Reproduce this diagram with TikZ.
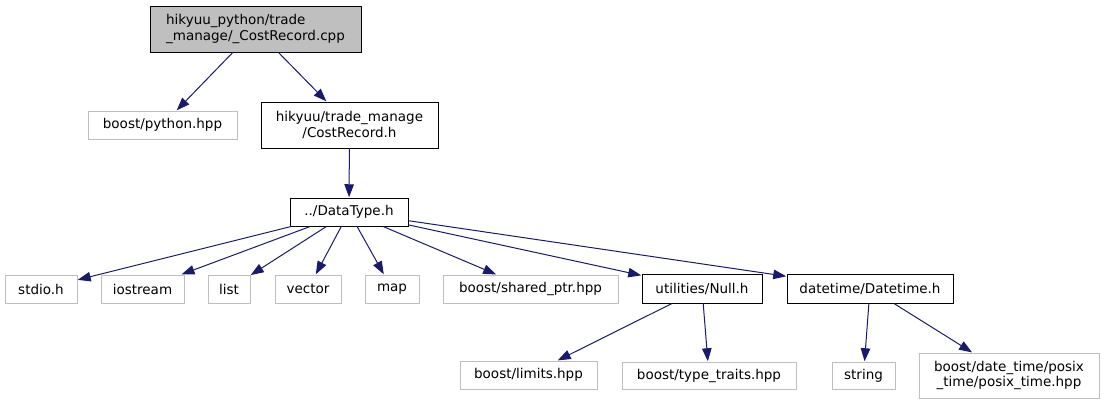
\documentclass[tikz,border=0pt]{standalone}
\usepackage{fontspec}
\setmainfont{DejaVu Sans}
\usetikzlibrary{arrows.meta}
\definecolor{edgeblue}{HTML}{191970}
\definecolor{boxgray}{HTML}{BFBFBF}
\tikzset{
  base/.style={rectangle, inner sep=0pt, font=\fontsize{13.5}{15.5}\selectfont, line width=0.9pt, text=black},
  sysbox/.style={base, draw=boxgray},
  projbox/.style={base, draw=black},
  rootbox/.style={base, draw=black, fill=boxgray, align=left},
  edge/.style={draw=edgeblue, line width=1pt, -{Triangle[length=13pt,width=9.5pt]}, shorten >=0.3pt}
}
\newcommand{\bx}[7]{% style, name, x1, x2, y1, y2, text
  \node[#1, minimum width={#4-#3}, minimum height={#6-#5}] (#2) at ({(#3+#4)/2},{(#5+#6)/2}) {#7};}
\begin{document}
\begin{tikzpicture}[x=1pt,y=-1pt]
\useasboundingbox (0,0) rectangle (1104,405);
\bx{rootbox}{root}{150}{361}{6}{52}{hikyuu\_python/trade\\\_manage/\_CostRecord.cpp}
\bx{sysbox}{python}{88}{237}{111}{139}{boost/python.hpp}
\bx{projbox,align=center}{cost}{261}{438}{102}{148}{hikyuu/trade\_manage\\/CostRecord.h}
\bx{projbox}{dt}{290}{408}{198}{226}{../DataType.h}
\bx{sysbox}{stdio}{5}{77}{275}{303}{stdio.h}
\bx{sysbox}{iostream}{101}{184}{275}{303}{iostream}
\bx{sysbox}{list}{208}{250}{275}{303}{list}
\bx{sysbox}{vector}{275}{341}{275}{303}{vector}
\bx{sysbox}{map}{365}{419}{275}{303}{map}
\bx{sysbox}{shared}{443}{618}{275}{303}{boost/shared\_ptr.hpp}
\bx{projbox}{null}{642}{762}{274}{303}{utilities/Null.h}
\bx{projbox}{datetime}{787}{953}{274}{303}{datetime/Datetime.h}
\bx{sysbox}{limits}{460}{597}{361}{389}{boost/limits.hpp}
\bx{sysbox}{traits}{622}{796}{362}{389}{boost/type\_traits.hpp}
\bx{sysbox}{string}{832}{895}{362}{389}{string}
\bx{sysbox,align=center}{posix}{919}{1099}{353}{398}{boost/date\_time/posix\\\_time/posix\_time.hpp}
\draw[edge] (root) -- (python);
\draw[edge] (root) -- (cost);
\draw[edge] (cost) -- (dt);
\draw[edge] (dt) -- (stdio);
\draw[edge] (dt) -- (iostream);
\draw[edge] (dt) -- (list);
\draw[edge] (dt) -- (vector);
\draw[edge] (dt) -- (map);
\draw[edge] (dt) -- (shared);
\draw[edge] (dt) -- (null);
\draw[edge] (dt) -- (datetime);
\draw[edge] (null) -- (limits);
\draw[edge] (null) -- (traits);
\draw[edge] (datetime) -- (string);
\draw[edge] (datetime) -- (posix);
\end{tikzpicture}
\end{document}
